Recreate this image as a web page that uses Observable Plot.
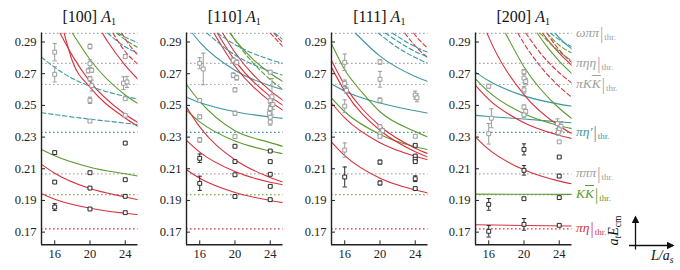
<!DOCTYPE html>
<html><head><meta charset="utf-8">
<script src="https://cdn.jsdelivr.net/npm/d3@7"></script>
<script src="https://cdn.jsdelivr.net/npm/@observablehq/plot@0.6"></script>
<style>
body{margin:0;background:#fff;}
#wrap{position:relative;width:680px;height:270px;overflow:hidden;font-family:"Liberation Serif","DejaVu Serif",serif;color:#111;}
.panel{position:absolute;top:0;}
.title{position:absolute;top:8px;font-size:16px;line-height:18px;text-align:center;width:120px;white-space:nowrap;}
.title sub{font-size:10px;vertical-align:-3px;}
.lab{position:absolute;left:576px;font-size:13.5px;line-height:14px;white-space:nowrap;display:flex;align-items:flex-start;}
.lab .nm{font-style:italic;}
.lab .vb{font-size:16px;line-height:14px;font-style:normal;transform:scaleY(1.1);margin-left:1px;}
.lab .sb{font-size:9px;line-height:10px;position:relative;top:6px;margin-left:1px;}
.ov{text-decoration:overline;}
.ind{position:absolute;font-style:italic;font-size:14px;white-space:nowrap;}
.ind sub{font-size:9.5px;vertical-align:-3px;}
</style></head>
<body><div id="wrap"></div>
<script>
// ---------------- data ----------------
const xTicks=[16,20,24];
const yTicks=[0.17,0.19,0.21,0.23,0.25,0.27,0.29];
const panelNames=["[100]","[110]","[111]","[200]"];

// thresholds (shared by all panels)
const thrNames=["ωππ","πηη","πKK̄","πη′","πππ","KK̄","πη"];
const thrE=[0.2955,0.2765,0.2632,0.2330,0.2068,0.1936,0.1721];
const thrCh=["grey","grey","grey","pietap","grey","KK","pieta"];

// non-interacting levels, [100]
const curves100=[
 {ch:"pieta",L:[14.5,16,20,24,25.45],E:[0.1943,0.1908,0.1851,0.1819,0.1810]},
 {ch:"pieta",L:[14.5,16,20,24,25.45],E:[0.2128,0.2072,0.1975,0.1922,0.1905]},
 {ch:"KK",L:[14.5,16,20,24,25.45],E:[0.2222,0.2182,0.2110,0.2068,0.2054]},
 {ch:"pieta",L:[16.6,18,20,24,25.45],E:[0.2957,0.2814,0.2650,0.2444,0.2391]},
 {ch:"pieta",L:[17.06,18,20,24,25.45],E:[0.2957,0.2780,0.2615,0.2420,0.2367]},
 {ch:"KK",L:[18.0,20,24,25.45],E:[0.2957,0.2790,0.2566,0.2511]},
 {ch:"pieta",L:[21.4,22,24,25.45],E:[0.2957,0.2903,0.2753,0.2665]}
];
const curves100d=[
 {ch:"pietap",L:[14.5,16,20,24,25.45],E:[0.2454,0.2442,0.2413,0.2388,0.2378]},
 {ch:"pietap",L:[14.5,16,18,20,24,25.45],E:[0.2805,0.2740,0.2670,0.2622,0.2557,0.2540]},
 {ch:"pietap",L:[22.0,24,25.45],E:[0.2957,0.2870,0.2830]},
 {ch:"pietap",L:[23.2,24.2,25.45],E:[0.2957,0.2925,0.2895]},
 {ch:"KK",L:[23.0,24,25.45],E:[0.2957,0.2915,0.2865]},
 {ch:"pieta",L:[22.6,24,25.45],E:[0.2957,0.2840,0.2760]},
 {ch:"pieta",L:[23.6,24.5,25.45],E:[0.2957,0.2880,0.2815]}
];
const black100={L:[16,16,16,20,20,20,24,24,24,24],
 E:[0.2202,0.2016,0.1858,0.2075,0.1978,0.1846,0.2262,0.2031,0.1926,0.1823],
 err:[0.0008,0.0009,0.0022,0.0008,0.0007,0.0008,0.0006,0.0005,0.0008,0.0007]};
const grey100={L:[16,16,20,20,19.8,20.2,20,20.2,20,20,24,23.8,24.2,24,24],
 E:[0.2836,0.2696,0.2872,0.2763,0.2718,0.2722,0.2668,0.2625,0.2532,0.2401,0.2809,0.2640,0.2648,0.2542,0.2437],
 err:[0.0055,0.0048,0.0015,0.0025,0.0012,0.0012,0.0015,0.0035,0.0020,0.0009,0.0008,0.0040,0.0035,0.0008,0.0006]};

// [110]
const curves110=[
 {ch:"pieta",L:[14.5,16,20,24,25.45],E:[0.2094,0.2040,0.1950,0.1900,0.1886]},
 {ch:"KK",L:[14.5,16,20,24,25.45],E:[0.2632,0.2525,0.2340,0.2265,0.2241]},
 {ch:"KK",L:[14.5,16,20,24,25.45],E:[0.2468,0.2396,0.2275,0.2212,0.2195]},
 {ch:"pieta",L:[14.5,16,20,24,25.45],E:[0.2489,0.2364,0.2157,0.2045,0.2016]},
 {ch:"pieta",L:[14.5,16,20,24,25.45],E:[0.2279,0.2205,0.2082,0.2015,0.1999]},
 {ch:"pietap",L:[15.15,16,20,24,25.45],E:[0.2957,0.2900,0.2722,0.2624,0.2600]},
 {ch:"pietap",L:[14.5,16,20,24,25.45],E:[0.2552,0.2518,0.2460,0.2427,0.2418]},
 {ch:"pieta",L:[17.6,20,24,25.45],E:[0.2957,0.2747,0.2525,0.2469]},
 {ch:"pieta",L:[18.0,20,24,25.45],E:[0.2957,0.2783,0.2557,0.2500]},
 {ch:"pieta",L:[18.6,20,24,25.45],E:[0.2957,0.2834,0.2593,0.2532]},
 {ch:"KK",L:[19.4,20,22,24,25.45],E:[0.2957,0.2914,0.2794,0.2703,0.2650]}
];
const curves110d=[
 {ch:"KK",L:[19.5,20,22,24,25.45],E:[0.2957,0.2914,0.2772,0.2663,0.2600]},
 {ch:"pietap",L:[16.8,20,24,25.45],E:[0.2957,0.2818,0.2716,0.2690]},
 {ch:"pietap",L:[18.0,20,24,25.45],E:[0.2957,0.2884,0.2789,0.2765]},
 {ch:"pieta",L:[24.0,24.7,25.45],E:[0.2957,0.2915,0.2870]},
 {ch:"pieta",L:[24.4,24.9,25.45],E:[0.2957,0.2925,0.2895]},
 {ch:"pietap",L:[24.5,25.45],E:[0.2957,0.2915]}
];
const black110={L:[16,16,20,20,20,20,24,24,24,24,24],
 E:[0.2166,0.2008,0.2242,0.2145,0.2062,0.1925,0.2212,0.2145,0.2065,0.1989,0.1905],
 err:[0.0027,0.0045,0.0006,0.0008,0.0006,0.0006,0.0004,0.0005,0.0006,0.0006,0.0005]};
const grey110={L:[16,16.4,16,16,16,19.8,20.2,19.8,20.2,20,20,20,24,24.2,24,24.3,24,23.9,24,24],
 E:[0.2766,0.2730,0.2532,0.2428,0.2282,0.2785,0.2772,0.2690,0.2675,0.2598,0.2450,0.2303,0.2710,0.2555,0.2530,0.2505,0.2480,0.2450,0.2425,0.2395],
 err:[0.0035,0.0100,0.0010,0.0012,0.0015,0.0015,0.0015,0.0015,0.0015,0.0012,0.0014,0.0006,0.0010,0.0115,0.0030,0.0030,0.0030,0.0025,0.0025,0.0020]};

// [111]
const curves111=[
 {ch:"pietap",L:[17.2,20,24,25.45],E:[0.2957,0.2811,0.2683,0.2651]},
 {ch:"pietap",L:[14.5,16,20,24,25.45],E:[0.2635,0.2590,0.2515,0.2466,0.2451]},
 {ch:"KK",L:[14.5,16,18,20,24,25.45],E:[0.2889,0.2725,0.2580,0.2460,0.2335,0.2300]},
 {ch:"KK",L:[14.5,16,20,24,25.45],E:[0.2546,0.2460,0.2317,0.2239,0.2220]},
 {ch:"pieta",L:[14.5,16,20,24,25.45],E:[0.2784,0.2628,0.2370,0.2230,0.2195]},
 {ch:"pieta",L:[14.5,16,20,24,25.45],E:[0.2740,0.2590,0.2343,0.2208,0.2174]},
 {ch:"pieta",L:[14.5,16,20,24,25.45],E:[0.2515,0.2421,0.2264,0.2179,0.2157]},
 {ch:"pieta",L:[14.5,16,20,24,25.45],E:[0.2268,0.2183,0.2040,0.1966,0.1947]}
];
const curves111d=[
 {ch:"pieta",L:[22.8,24,25.45],E:[0.2957,0.2875,0.2800]},
 {ch:"pieta",L:[23.8,24.6,25.45],E:[0.2957,0.2905,0.2860]},
 {ch:"pietap",L:[19.8,22,24,25.45],E:[0.2957,0.2865,0.2802,0.2765]},
 {ch:"pietap",L:[20.6,22,24,25.45],E:[0.2957,0.2905,0.2840,0.2805]},
 {ch:"pietap",L:[21.4,24,25.45],E:[0.2957,0.2870,0.2835]}
];
const black111={L:[16,20,20,24,24,24,24,24,24],
 E:[0.2048,0.2142,0.2010,0.2248,0.2180,0.2160,0.2145,0.2037,0.1975],
 err:[0.0063,0.0012,0.0012,0.0005,0.0008,0.0008,0.0008,0.0018,0.0006]};
const grey111={L:[16,16,16.2,16,16,20,20,20,20,20.3,20,20,24,24.2,24],
 E:[0.2772,0.2640,0.2595,0.2495,0.2218,0.2775,0.2665,0.2532,0.2365,0.2340,0.2320,0.2305,0.2565,0.2548,0.2305],
 err:[0.0052,0.0020,0.0020,0.0040,0.0045,0.0015,0.0050,0.0015,0.0012,0.0012,0.0010,0.0010,0.0025,0.0025,0.0008]};

// [200]
const curves200=[
 {ch:"pieta",L:[14.5,20,25.45],E:[0.1747,0.1742,0.1739]},
 {ch:"KK",L:[14.5,20,25.45],E:[0.1940,0.1939,0.1938]},
 {ch:"pieta",L:[14.5,16,20,24,25.45],E:[0.2300,0.2222,0.2093,0.2022,0.2005]},
 {ch:"pietap",L:[14.5,16,20,24,25.45],E:[0.2710,0.2655,0.2560,0.2508,0.2495]},
 {ch:"pietap",L:[14.5,16,20,24,25.45],E:[0.2437,0.2430,0.2414,0.2396,0.2390]},
 {ch:"KK",L:[17.9,20,24,25.45],E:[0.2957,0.2744,0.2482,0.2416]},
 {ch:"KK",L:[14.5,16,20,24,25.45],E:[0.2668,0.2585,0.2447,0.2372,0.2353]},
 {ch:"pieta",L:[15.8,16,20,24,25.45],E:[0.2957,0.2931,0.2568,0.2370,0.2321]},
 {ch:"pieta",L:[14.5,16,20,24,25.45],E:[0.2626,0.2538,0.2391,0.2311,0.2290]},
 {ch:"KK",L:[21.5,22.5,24,25.45],E:[0.2957,0.2879,0.2780,0.2700]},
 {ch:"pieta",L:[22.1,23,24,25.45],E:[0.2957,0.2893,0.2830,0.2752]},
 {ch:"pietap",L:[23.5,24.5,25.45],E:[0.2957,0.2900,0.2855]}
];
const curves200d=[
 {ch:"pieta",L:[19.3,20,22,24,25.45],E:[0.2957,0.2891,0.2737,0.2619,0.2550]},
 {ch:"pieta",L:[20.2,22,24,25.45],E:[0.2957,0.2821,0.2706,0.2640]},
 {ch:"pieta",L:[22.6,24,25.45],E:[0.2957,0.2850,0.2770]},
 {ch:"KK",L:[21.8,24,25.45],E:[0.2957,0.2840,0.2780]},
 {ch:"KK",L:[22.6,24,25.45],E:[0.2957,0.2880,0.2830]},
 {ch:"pietap",L:[23.0,24,25.45],E:[0.2957,0.2915,0.2870]}
];
const black200={L:[16,16,20,20,20,20,24,24,24,24],
 E:[0.1875,0.1705,0.2222,0.2090,0.1911,0.1749,0.2174,0.2054,0.1918,0.1743],
 err:[0.0037,0.0036,0.0035,0.0030,0.0006,0.0037,0.0005,0.0010,0.0005,0.0006]};
const grey200={L:[16,16.3,16,20,20,20.2,20,20,20.2,20,23.8,24.2,24,23.9,24],
 E:[0.2621,0.2419,0.2321,0.2711,0.2672,0.2650,0.2598,0.2490,0.2462,0.2440,0.2385,0.2368,0.2350,0.2330,0.2270],
 err:[0.0012,0.0060,0.0065,0.0015,0.0030,0.0020,0.0020,0.0012,0.0012,0.0015,0.0030,0.0030,0.0020,0.0020,0.0006]};

// ---------------- layout & style ----------------
const xDomain=[14.5,25.45], yDomain=[0.162,0.2957];
const panelLeft=[41,186,331,475];
const ML=41, PW=96.5, MR=6, H=270, MT=32.5, MB=25.7;
const COL={pieta:"#d7333d",KK:"#5c9b2f",pietap:"#3e97a2",grey:"#a9a9a9"};
const DATCOL={black:"#2a2a2a",grey:"#9c9c9c"};
const capSym={draw(ctx,size){const w=Math.sqrt(size)/2;ctx.moveTo(-w,0);ctx.lineTo(w,0);}};

const wrap=document.getElementById("wrap");
const panels=[
 [curves100,curves100d,black100,grey100],
 [curves110,curves110d,black110,grey110],
 [curves111,curves111d,black111,grey111],
 [curves200,curves200d,black200,grey200]
];

function dataMarks(set,color){
  const idx=set.L.map((_,j)=>j);
  return [
    Plot.ruleX(idx,{x:j=>set.L[j],y1:j=>set.E[j]-set.err[j],y2:j=>set.E[j]+set.err[j],stroke:color,strokeWidth:1}),
    Plot.dot(idx,{x:j=>set.L[j],y:j=>set.E[j]+set.err[j],symbol:capSym,r:2.4,stroke:color,fill:"none",strokeWidth:1}),
    Plot.dot(idx,{x:j=>set.L[j],y:j=>set.E[j]-set.err[j],symbol:capSym,r:2.4,stroke:color,fill:"none",strokeWidth:1}),
    Plot.dot(idx,{x:j=>set.L[j],y:j=>set.E[j],symbol:"square",r:2.2,stroke:color,fill:"white",strokeWidth:1})
  ];
}
function curveMarks(arr,dashed){
  return arr.map(c=>Plot.line(c.L.map((L,j)=>({L,E:c.E[j]})),{x:"L",y:"E",stroke:COL[c.ch],strokeWidth:1.1,strokeDasharray:dashed?"4.5,2.6":null,curve:"monotone-x",clip:true}));
}

let lastPlot=null;
panels.forEach(([sol,dsh,blk,gry],i)=>{
  const marks=[];
  thrE.forEach((e,k)=>marks.push(Plot.ruleY([e],{y:d=>d,stroke:COL[thrCh[k]],strokeWidth:1.2,strokeDasharray:"1.6,2.4"})));
  marks.push(...curveMarks(sol,false),...curveMarks(dsh,true));
  marks.push(...dataMarks(gry,DATCOL.grey),...dataMarks(blk,DATCOL.black));
  marks.push(
    Plot.tickX(xTicks,{x:d=>d,insetTop:H-MT-MB-4,stroke:"#222"}),
    Plot.tickY(yTicks,{y:d=>d,insetRight:PW-4,stroke:"#222"}),
    Plot.ruleX([xDomain[0]],{x:d=>d,stroke:"#222",strokeWidth:1.4}),
    Plot.ruleY([yDomain[0]],{y:d=>d,stroke:"#222",strokeWidth:1.4}),
    Plot.axisX({ticks:xTicks,tickSize:0,tickPadding:4,tickFormat:d=>String(d),label:null,fill:"#222"}),
    Plot.axisY({ticks:yTicks,tickSize:0,tickPadding:5,tickFormat:d3.format(".2f"),label:null,fill:"#222"})
  );
  const p=Plot.plot({
    width:ML+PW+MR,height:H,marginLeft:ML,marginRight:MR,marginTop:MT,marginBottom:MB,
    x:{domain:xDomain},y:{domain:yDomain},
    style:{fontFamily:"'Liberation Serif',serif",fontSize:"12.5px",background:"transparent",overflow:"visible"},
    marks
  });
  p.classList.add("panel");
  p.style.left=(panelLeft[i]-ML)+"px";
  wrap.appendChild(p);
  const t=document.createElement("div");
  t.className="title";
  t.style.left=(panelLeft[i]+PW/2-60)+"px";
  t.innerHTML=panelNames[i]+" <i>A</i><sub>1</sub>";
  wrap.appendChild(t);
  lastPlot=p;
});

// threshold labels at right, positioned with the y scale
const ys=lastPlot.scale("y");
const thrHTML={"πKK̄":"πK<span class='ov'>K</span>","KK̄":"K<span class='ov'>K</span>"};
thrNames.forEach((n,k)=>{
  const d=document.createElement("div");
  d.className="lab";
  d.style.color=k===3?COL.pietap:k===5?COL.KK:k===6?COL.pieta:"#a0a0a0";
  d.style.top=(ys.apply(thrE[k])-7)+"px";
  d.innerHTML=`<span class="nm">${thrHTML[n]||n}</span><span class="vb">|</span><span class="sb">thr.</span>`;
  wrap.appendChild(d);
});

// axis indicator
const ind=document.createElementNS("http://www.w3.org/2000/svg","svg");
ind.setAttribute("width","680");ind.setAttribute("height","270");
ind.style.position="absolute";ind.style.left="0";ind.style.top="0";ind.style.pointerEvents="none";
ind.innerHTML=`<defs><marker id="ah" viewBox="0 0 10 10" refX="8" refY="5" markerWidth="6" markerHeight="6" orient="auto"><path d="M0,0L10,5L0,10z" fill="#111"/></marker></defs>
<line x1="635.5" y1="249.5" x2="635.5" y2="217" stroke="#111" stroke-width="1.3" marker-end="url(#ah)"/>
<line x1="629" y1="245.5" x2="673" y2="245.5" stroke="#111" stroke-width="1.3" marker-end="url(#ah)"/>`;
wrap.appendChild(ind);
const a1=document.createElement("div");
a1.className="ind";
a1.innerHTML="a<sub>t</sub>E<sub style='font-style:normal'>cm</sub>";
a1.style.left="600px";a1.style.top="222px";a1.style.transform="rotate(-90deg)";a1.style.transformOrigin="center";
wrap.appendChild(a1);
const a2=document.createElement("div");
a2.className="ind";
a2.innerHTML="L/a<sub>s</sub>";
a2.style.left="651px";a2.style.top="248px";
wrap.appendChild(a2);
</script></body></html>
